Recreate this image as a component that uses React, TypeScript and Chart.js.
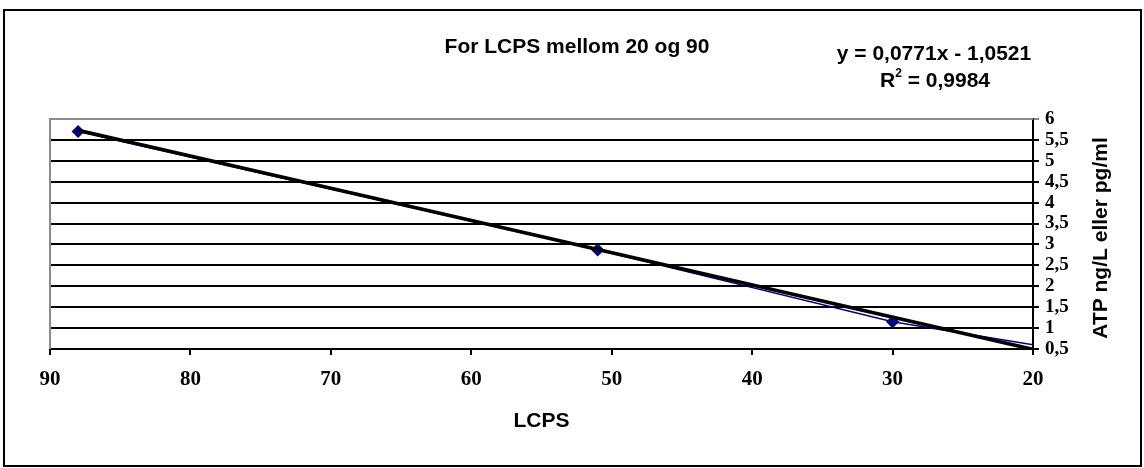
import React, { useEffect, useRef } from "react";
import { Chart, registerables } from "chart.js";

Chart.register(...registerables);

// Data
const lcps = [88, 51, 30, 20];
const atp = [5.7, 2.87, 1.15, 0.6];
const markerShown = [true, true, true, false];
const trendX = [88, 20];
const trendY = [5.73, 0.49];
const chartTitle = "For LCPS mellom 20 og 90";
const equationText = "y = 0,0771x - 1,0521";
const r2Value = "0,9984";
const xTitle = "LCPS";
const yTitle = "ATP ng/L eller pg/ml";
const xMin = 20;
const xMax = 90;
const yMin = 0.5;
const yMax = 6;

const W = 1144;
const H = 468;
const SANS = "'Liberation Sans', Arial, sans-serif";
const SERIF = "'Liberation Serif', 'Times New Roman', serif";

const textPlugin = {
  id: "excelTexts",
  beforeDraw(chart: any) {
    const ctx = chart.ctx;
    ctx.save();
    ctx.fillStyle = "#ffffff";
    ctx.fillRect(0, 0, W, H);
    ctx.restore();
  },
  afterDatasetsDraw(chart: any) {
    const ctx = chart.ctx;
    const ca = chart.chartArea;
    ctx.save();
    ctx.strokeStyle = "#8c8c8c";
    ctx.lineWidth = 2;
    ctx.beginPath();
    ctx.moveTo(ca.left, ca.bottom);
    ctx.lineTo(ca.left, ca.top);
    ctx.lineTo(ca.right, ca.top);
    ctx.stroke();
    ctx.restore();
  },
  afterDraw(chart: any) {
    const ctx = chart.ctx;
    const ca = chart.chartArea;
    ctx.save();
    ctx.strokeStyle = "#000";
    ctx.lineWidth = 2;
    ctx.strokeRect(4, 10, 1137, 456);

    ctx.fillStyle = "#000";
    ctx.textBaseline = "middle";
    ctx.textAlign = "center";
    ctx.font = "bold 21px " + SANS;
    ctx.fillText(chartTitle, 577, 47);
    ctx.fillText(equationText, 934, 54);

    const rPart = "R";
    const rest = " = " + r2Value;
    const wR = ctx.measureText(rPart).width;
    const wRest = ctx.measureText(rest).width;
    ctx.font = "bold 12px " + SANS;
    const wSup = ctx.measureText("2").width;
    const total = wR + wSup + wRest;
    const x0 = 935 - total / 2;
    ctx.textAlign = "left";
    ctx.font = "bold 21px " + SANS;
    ctx.fillText(rPart, x0, 81);
    ctx.font = "bold 12px " + SANS;
    ctx.fillText("2", x0 + wR, 74);
    ctx.font = "bold 21px " + SANS;
    ctx.fillText(rest, x0 + wR + wSup, 81);

    ctx.textAlign = "center";
    ctx.fillText(xTitle, (ca.left + ca.right) / 2, 421);
    ctx.translate(1101, (ca.top + ca.bottom) / 2 + 4);
    ctx.rotate(-Math.PI / 2);
    ctx.fillText(yTitle, 0, 0);
    ctx.restore();
  },
};

export default function App() {
  const ref = useRef<HTMLCanvasElement | null>(null);
  useEffect(() => {
    if (!ref.current) return;
    const seriesPts = lcps.map((x, i) => ({ x, y: atp[i] }));
    const trendPts = trendX.map((x, i) => ({ x, y: trendY[i] }));
    const chart = new Chart(ref.current, {
      type: "scatter",
      data: {
        datasets: [
          {
            label: "Trend",
            data: trendPts,
            showLine: true,
            borderColor: "#000000",
            borderWidth: 3.5,
            pointRadius: 0,
            order: 0,
          },
          {
            label: "ATP",
            data: seriesPts,
            showLine: true,
            borderColor: "#000080",
            borderWidth: 1.5,
            backgroundColor: "#000080",
            pointBackgroundColor: "#000080",
            pointBorderColor: "#000080",
            pointStyle: "rectRot",
            pointRadius: markerShown.map((m) => (m ? 5.5 : 0)),
            order: 1,
          },
        ],
      },
      options: {
        animation: false,
        responsive: true,
        maintainAspectRatio: false,
        devicePixelRatio: 1,
        layout: { padding: { left: 50, top: 119, right: 0, bottom: 0 } },
        plugins: {
          legend: { display: false },
          title: { display: false },
          tooltip: { enabled: false },
        },
        scales: {
          x: {
            type: "linear",
            position: "bottom",
            reverse: true,
            min: xMin,
            max: xMax,
            ticks: {
              stepSize: 10,
              color: "#000",
              padding: 12,
              font: { family: SERIF, weight: "bold", size: 21 },
            },
            grid: {
              drawOnChartArea: false,
              drawTicks: true,
              tickLength: 6,
              color: "#000",
              lineWidth: 2,
            },
            border: { display: true, color: "#000", width: 2 },
            afterFit(scale: any) {
              scale.height = H - 349;
            },
          },
          y: {
            type: "linear",
            position: "right",
            min: yMin,
            max: yMax,
            ticks: {
              stepSize: 0.5,
              color: "#000",
              padding: 6,
              autoSkip: false,
              callback: (v: any) => String(v).replace(".", ","),
              font: { family: SERIF, weight: "bold", size: 19, lineHeight: 1 },
            },
            grid: {
              drawTicks: true,
              tickLength: 6,
              color: (c: any) => (c.tick && c.tick.value === yMax ? "#8c8c8c" : "#000"),
              lineWidth: 2,
            },
            border: { display: true, color: "#000", width: 2 },
            afterFit(scale: any) {
              scale.width = W - 1033;
            },
          },
        },
      },
      plugins: [textPlugin],
    });
    return () => chart.destroy();
  }, []);
  return (
    <div style={{ position: "fixed", left: 0, top: 0, width: W, height: H, background: "#fff" }}>
      <canvas ref={ref} />
    </div>
  );
}
